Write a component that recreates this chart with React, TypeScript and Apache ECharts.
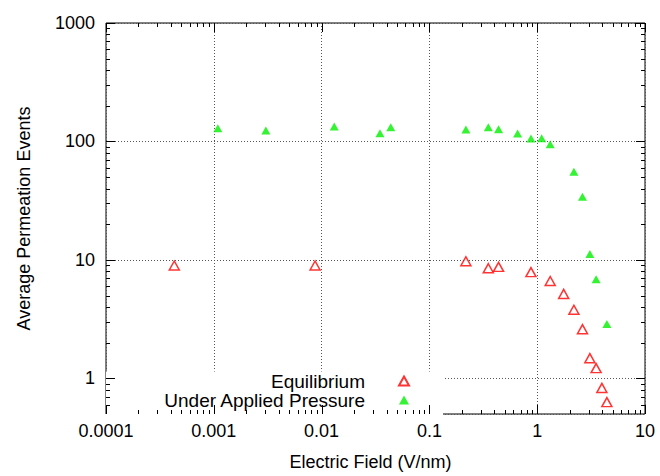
import React, { useEffect, useRef } from 'react';
import * as echarts from 'echarts';

// ---- data ----
const xTickLabels = ['0.0001', '0.001', '0.01', '0.1', '1', '10'];
const yTickLabels = ['1', '10', '100', '1000'];
const yMinorDecades = [0.1, 1, 10, 100];
const minorMultipliers = [2, 3, 4, 5, 6, 7, 8, 9];

const equilibriumX = [0.00043, 0.0087, 0.218, 0.352, 0.438, 0.875, 1.32, 1.76, 2.19, 2.63, 3.08, 3.52, 3.98, 4.43];
const equilibriumY = [8.97, 8.97, 9.74, 8.51, 8.73, 7.88, 6.63, 5.16, 3.79, 2.6, 1.48, 1.22, 0.83, 0.63];

const pressureX = [0.00109, 0.00304, 0.0131, 0.0348, 0.0438, 0.218, 0.352, 0.438, 0.658, 0.875, 1.1, 1.32, 2.19, 2.63, 3.08, 3.52, 4.43];
const pressureY = [129, 123.5, 134, 117, 131.6, 126, 131.6, 126.6, 116.6, 105.9, 106.5, 94.9, 55.4, 34.2, 11.2, 6.85, 2.88];

const SERIES_NAMES = ['Equilibrium', 'Under Applied Pressure'];
const X_MIN = 0.0001;
const X_MAX = 10;
const Y_MIN = 0.5;
const Y_MAX = 1000;

const FONT = '"Liberation Sans", Arial, Helvetica, sans-serif';
const FONT_SIZE = 18;
const LEGEND_FONT_SIZE = 19;

function matchLabel(v: number, labels: string[]): string {
  for (const l of labels) {
    if (Math.abs(Math.log10(v) - Math.log10(Number(l))) < 1e-6) return l;
  }
  return '';
}

export default function App() {
  const ref = useRef<HTMLDivElement>(null);

  useEffect(() => {
    document.body.style.margin = '0';
    if (!ref.current) return;
    const chart = echarts.init(ref.current, undefined, { renderer: 'svg' });

    // measure legend text to size the key box
    let textW = 202;
    try {
      const cv = document.createElement('canvas');
      const ctx = cv.getContext('2d');
      if (ctx) {
        ctx.font = `${LEGEND_FONT_SIZE}px "Liberation Sans", Arial, sans-serif`;
        textW = ctx.measureText(SERIES_NAMES[1]).width;
      }
    } catch (e) {
      /* ignore */
    }
    const textPadRight = 29;
    const iconW = 10;
    const keyRight = 443; // right edge of key box
    const iconRight = 410;
    const contentLeft = iconRight - (textW + textPadRight + 5 + iconW);
    const padLeft = Math.max(0, contentLeft - 107);

    const xMajor = xTickLabels.map(Number);
    const xMinor = xMajor.slice(0, -1).flatMap((d) => minorMultipliers.map((m) => m * d));
    const yMajor = yTickLabels.map(Number);
    const yMinor = yMinorDecades
      .flatMap((d) => minorMultipliers.map((m) => m * d))
      .filter((v) => v > Y_MIN * 1.0001 && v < Y_MAX);

    const xTickData = [...xMajor.map((v) => [v, 1, 1]), ...xMinor.map((v) => [v, 1, 0])];
    const yTickData = [...yMajor.map((v) => [1, v, 1]), ...yMinor.map((v) => [1, v, 0])];

    const tickStyle = { stroke: '#000', lineWidth: 1 };

    const option: any = {
      animation: false,
      backgroundColor: '#fff',
      textStyle: { fontFamily: FONT },
      grid: {
        show: true,
        left: 106,
        right: 15,
        top: 23,
        bottom: 57,
        borderColor: '#000',
        borderWidth: 1,
        backgroundColor: 'transparent',
      },
      legend: {
        data: SERIES_NAMES,
        orient: 'vertical',
        align: 'right',
        right: 660 - keyRight,
        top: 371.5,
        itemWidth: 10,
        itemHeight: 9,
        itemGap: 0,
        padding: [0, keyRight - iconRight, 8, padLeft],
        backgroundColor: '#fff',
        selectedMode: false,
        textStyle: {
          fontFamily: FONT,
          fontSize: LEGEND_FONT_SIZE,
          color: '#000',
          lineHeight: 19,
          padding: [0, textPadRight, 0, 0],
        },
      },
      xAxis: {
        type: 'log',
        logBase: 10,
        min: X_MIN,
        max: X_MAX,
        name: 'Electric Field (V/nm)',
        nameLocation: 'middle',
        nameGap: 39,
        nameTextStyle: { fontFamily: FONT, fontSize: FONT_SIZE, color: '#000', padding: [0, 10, 0, 0] },
        axisLine: { show: false },
        axisTick: { show: false },
        axisLabel: {
          fontFamily: FONT,
          fontSize: FONT_SIZE,
          color: '#000',
          margin: 8,
          formatter: (v: number) => matchLabel(v, xTickLabels),
        },
        splitLine: { show: true, lineStyle: { color: '#555', width: 1, type: [1, 2] } },
      },
      yAxis: {
        type: 'log',
        logBase: 10,
        min: Y_MIN,
        max: Y_MAX,
        name: 'Average Permeation Events',
        nameLocation: 'middle',
        nameGap: 73,
        nameRotate: 90,
        nameTextStyle: { fontFamily: FONT, fontSize: FONT_SIZE, color: '#000' },
        axisLine: { show: false },
        axisTick: { show: false },
        axisLabel: {
          fontFamily: FONT,
          fontSize: FONT_SIZE,
          color: '#000',
          margin: 11,
          formatter: (v: number) => matchLabel(v, yTickLabels),
        },
        splitLine: { show: true, lineStyle: { color: '#555', width: 1, type: [1, 2] } },
      },
      series: [
        {
          name: SERIES_NAMES[0],
          type: 'scatter',
          symbol: 'triangle',
          symbolSize: [10, 9],
          data: equilibriumX.map((x, i) => [x, equilibriumY[i]]),
          itemStyle: { color: '#ffffff', borderColor: '#ff0000', borderWidth: 1.5 },
          z: 3,
        },
        {
          name: SERIES_NAMES[1],
          type: 'scatter',
          symbol: 'triangle',
          symbolSize: [9, 8],
          data: pressureX.map((x, i) => [x, pressureY[i]]),
          itemStyle: { color: '#00f000' },
          z: 3,
        },
        {
          name: 'xticks',
          type: 'custom',
          silent: true,
          z: 6,
          encode: { x: 0, y: 1 },
          data: xTickData,
          renderItem: (params: any, api: any) => {
            const v = api.value(0);
            const len = api.value(2) ? 9 : 4;
            const b = api.coord([v, Y_MIN]);
            const t = api.coord([v, Y_MAX]);
            const x = Math.round(b[0]) + 0.5;
            return {
              type: 'group',
              children: [
                { type: 'line', shape: { x1: x, y1: b[1], x2: x, y2: b[1] - len }, style: tickStyle },
                { type: 'line', shape: { x1: x, y1: t[1], x2: x, y2: t[1] + len }, style: tickStyle },
              ],
            };
          },
        },
        {
          name: 'yticks',
          type: 'custom',
          silent: true,
          z: 6,
          encode: { x: 0, y: 1 },
          data: yTickData,
          renderItem: (params: any, api: any) => {
            const v = api.value(1);
            const len = api.value(2) ? 9 : 4;
            const l = api.coord([X_MIN, v]);
            const r = api.coord([X_MAX, v]);
            const y = Math.round(l[1]) + 0.5;
            return {
              type: 'group',
              children: [
                { type: 'line', shape: { x1: l[0], y1: y, x2: l[0] + len, y2: y }, style: tickStyle },
                { type: 'line', shape: { x1: r[0], y1: y, x2: r[0] - len, y2: y }, style: tickStyle },
              ],
            };
          },
        },
      ],
    };

    chart.setOption(option);
    return () => {
      chart.dispose();
    };
  }, []);

  return <div ref={ref} style={{ width: 660, height: 476 }} />;
}
